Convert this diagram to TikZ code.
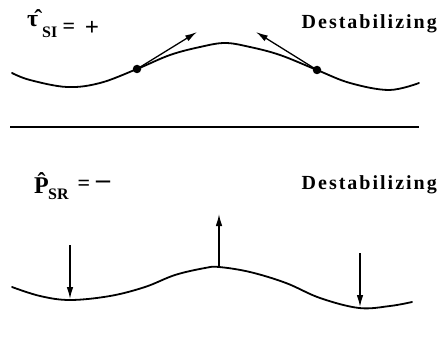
\documentclass[tikz,border=0pt]{standalone}
\usepackage{fontspec}
\setmainfont{Liberation Serif}
\usetikzlibrary{arrows.meta}
\begin{document}
\begin{tikzpicture}[x=1pt,y=-1pt,
  curve/.style={line width=1.8pt, line cap=round},
  arr/.style={line width=1.3pt,-{Latex[length=12pt,width=6.5pt]}},
  dot/.style={circle,fill=black,inner sep=0pt,minimum size=8.5pt},
  big/.style={inner sep=0pt,font=\fontsize{24}{28}\selectfont\bfseries},
  mid/.style={inner sep=0pt,font=\fontsize{22}{24}\selectfont\bfseries},
  sub/.style={inner sep=0pt,font=\fontsize{16}{18}\selectfont\bfseries},
  dest/.style={inner sep=0pt,font=\fontsize{20}{24}\selectfont\bfseries\addfontfeature{LetterSpace=10}}]
\useasboundingbox (0,0) rectangle (438,342);
% top panel
\node[big,anchor=base west] (tau) at (27,27) {τ̂};
\node[sub,anchor=base west] (tausub) at (42,38) {SI};
\node[mid] (taueq) at (69,28) {=};
\node[mid,font=\fontsize{25}{28}\selectfont\bfseries] (tauplus) at (92,28) {+};
\node[dest,anchor=base east] (d1) at (437,29) {Destabilizing};
\draw[curve] plot[smooth,tension=0.6] coordinates {(12,73) (30,80) (67,87) (100,83) (137,69) (170,55) (200,47) (225,43) (250,47) (280,55) (317,70) (350,83) (389,90) (419,83)};
\node[dot] (p1) at (137,69) {};
\node[dot] (p2) at (317,70) {};
\coordinate (t1) at (197,32);
\coordinate (t2) at (256,32);
\draw[arr] (p1.center) -- (t1);
\draw[arr] (p2.center) -- (t2);
% separator
\coordinate (s1) at (10,127);
\coordinate (s2) at (419,127);
\draw[line width=1.7pt] (s1) -- (s2);
% bottom panel
\node[big,anchor=base west] (P) at (34,193) {P̂};
\node[sub,anchor=base west] (Psub) at (48,199) {SR};
\node[mid] (Peq) at (84,185) {=};
\node[mid,font=\fontsize{28}{30}\selectfont\bfseries] (Pminus) at (103,185) {–};
\node[dest,anchor=base east] (d2) at (437,189) {Destabilizing};
\draw[curve] plot[smooth,tension=0.6] coordinates {(12,287) (40,296) (70,300) (110,296) (145,287) (175,275) (205,268) (219,267) (250,272) (286,283) (320,298) (359,308) (390,306) (412,302)};
\coordinate (a1) at (70,245);
\coordinate (b1) at (70,299);
\coordinate (a2) at (219,267);
\coordinate (b2) at (219,214);
\coordinate (a3) at (360,253);
\coordinate (b3) at (360,307);
\draw[arr] (a1) -- (b1);
\draw[arr] (a2) -- (b2);
\draw[arr] (a3) -- (b3);
\end{tikzpicture}
\end{document}
